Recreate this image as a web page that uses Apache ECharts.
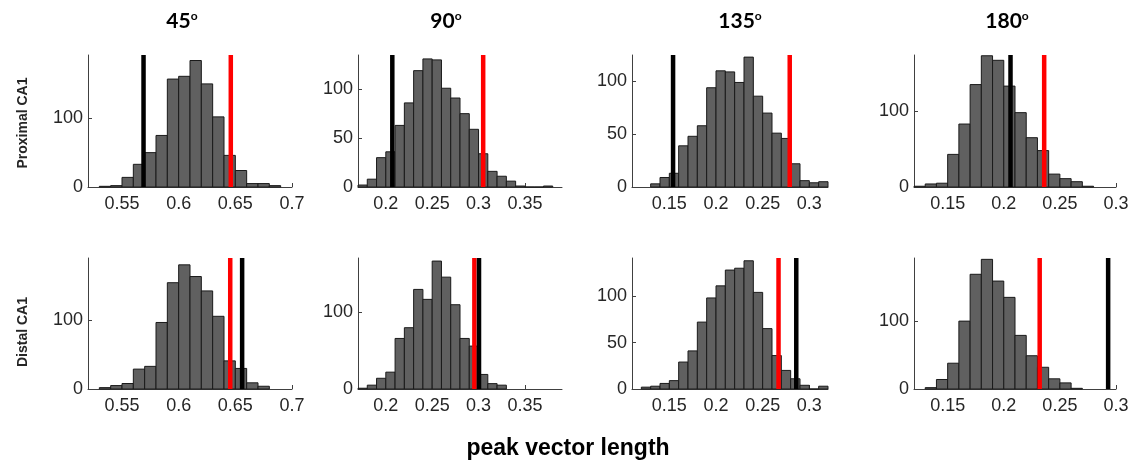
<!DOCTYPE html>
<html>
<head>
<meta charset="utf-8">
<script src="https://cdn.jsdelivr.net/npm/echarts@6/dist/echarts.min.js"></script>
<style>html,body{margin:0;padding:0;background:#fff}#c{width:1137px;height:466px}</style>
</head>
<body>
<div id="c"></div>
<script>
// ---- data ----
const binWidth = 0.01;
const angleTitles = ['45', '90', '135', '180'];
const rowLabels = ['Proximal CA1', 'Distal CA1'];
const xLabel = 'peak vector length';

// histogram counts (first bin start + counts per 0.01 bin)
const prox45Start = 0.53;  const prox45Counts  = [1, 2, 14, 33, 50, 75, 157, 161, 184, 150, 102, 46, 24, 5, 5, 2];
const prox90Start = 0.17;  const prox90Counts  = [2, 8, 30, 36, 63, 86, 119, 131, 130, 101, 91, 75, 59, 34, 16, 11, 6, 1, 0, 0, 1];
const prox135Start = 0.13; const prox135Counts = [3, 9, 13, 39, 48, 58, 94, 110, 109, 99, 123, 86, 70, 51, 46, 22, 6, 4, 5];
const prox180Start = 0.12; const prox180Counts = [1, 4, 5, 43, 83, 135, 173, 167, 133, 98, 65, 48, 17, 11, 7, 1];
const dist45Start = 0.53;  const dist45Counts  = [2, 5, 8, 29, 33, 97, 155, 181, 164, 143, 106, 41, 30, 9, 4];
const dist90Start = 0.17;  const dist90Counts  = [1, 5, 14, 22, 66, 80, 130, 117, 167, 146, 110, 66, 56, 19, 7, 5];
const dist135Start = 0.12; const dist135Counts = [2, 3, 6, 9, 29, 41, 72, 98, 111, 128, 130, 138, 104, 65, 36, 20, 11, 4, 0, 3];
const dist180Start = 0.13; const dist180Counts = [2, 14, 38, 100, 169, 191, 159, 135, 79, 49, 32, 15, 9, 1];

// vertical markers: black = observed, red = shuffle threshold
const proxObserved  = [0.569, 0.207, 0.154, 0.206];
const proxThreshold = [0.646, 0.305, 0.279, 0.236];
const distObserved  = [0.656, 0.3005, 0.286, 0.293];
const distThreshold = [0.6455, 0.2955, 0.267, 0.232];

// axes
const xMins = [0.52, 0.17, 0.11, 0.12];
const xMaxs = [0.70, 0.39, 0.32, 0.30];
const xTicks = [[0.55, 0.6, 0.65, 0.7], [0.2, 0.25, 0.3, 0.35], [0.15, 0.2, 0.25, 0.3], [0.15, 0.2, 0.25, 0.3]];
const proxYMax = [192, 135, 125, 174];
const distYMax = [191, 171, 141, 193];
const proxYTicks = [[0, 100], [0, 50, 100], [0, 50, 100], [0, 100]];
const distYTicks = [[0, 100], [0, 100], [0, 50, 100], [0, 100]];

// ---- layout ----
const colLeft = [88, 358, 632, 914];
const colWidth = [204, 204, 196, 202];
const rowTop = [55, 258];
const rowHeight = [132, 131];
const titleX = [182, 446, 740, 1007];

const rows = [
  {starts: [prox45Start, prox90Start, prox135Start, prox180Start],
   counts: [prox45Counts, prox90Counts, prox135Counts, prox180Counts],
   obs: proxObserved, thr: proxThreshold, ymax: proxYMax, yticks: proxYTicks},
  {starts: [dist45Start, dist90Start, dist135Start, dist180Start],
   counts: [dist45Counts, dist90Counts, dist135Counts, dist180Counts],
   obs: distObserved, thr: distThreshold, ymax: distYMax, yticks: distYTicks}
];

const font = 'Liberation Sans, Arial, sans-serif';
const axisColor = '#404040';
const textColor = '#262626';

const grid = [], xAxis = [], yAxis = [], series = [];
let gi = 0;
rows.forEach((row, r) => {
  for (let c = 0; c < 4; c++) {
    grid.push({left: colLeft[c], top: rowTop[r], width: colWidth[c], height: rowHeight[r], containLabel: false});
    xAxis.push({
      type: 'value', gridIndex: gi, min: xMins[c], max: xMaxs[c],
      axisLine: {show: true, onZero: false, lineStyle: {color: axisColor, width: 1}},
      axisTick: {show: true, inside: true, length: 4, customValues: xTicks[c], lineStyle: {color: axisColor}},
      axisLabel: {show: true, customValues: xTicks[c], margin: 8, color: textColor, fontFamily: font, fontSize: 18,
        formatter: v => String(+v.toFixed(3))},
      splitLine: {show: false}
    });
    yAxis.push({
      type: 'value', gridIndex: gi, min: 0, max: row.ymax[c],
      axisLine: {show: true, lineStyle: {color: axisColor, width: 1}},
      axisTick: {show: true, inside: true, length: 4, customValues: row.yticks[c], lineStyle: {color: axisColor}},
      axisLabel: {show: true, customValues: row.yticks[c], margin: 5, color: textColor, fontFamily: font, fontSize: 18},
      splitLine: {show: false}
    });
    const start = row.starts[c];
    const data = row.counts[c].map((v, i) => [
      +(start + i * binWidth).toFixed(4), +(start + (i + 1) * binWidth).toFixed(4), v]);
    series.push({
      type: 'custom', xAxisIndex: gi, yAxisIndex: gi, silent: true, animation: false,
      data: data,
      encode: {x: [0, 1], y: 2},
      renderItem: (params, api) => {
        const p0 = api.coord([api.value(0), 0]);
        const p1 = api.coord([api.value(1), api.value(2)]);
        return {type: 'rect',
          shape: {x: p0[0], y: p1[1], width: p1[0] - p0[0], height: p0[1] - p1[1]},
          style: {fill: '#606060', stroke: '#1a1a1a', lineWidth: 1}};
      }
    });
    const ym = row.ymax[c];
    [[row.thr[c], '#ff0000'], [row.obs[c], '#000000']].forEach(([xv, col]) => {
      series.push({
        type: 'line', xAxisIndex: gi, yAxisIndex: gi, silent: true, animation: false,
        showSymbol: false, symbol: 'none',
        data: [[xv, 0], [xv, ym]],
        lineStyle: {color: col, width: 4.5, cap: 'butt'}
      });
    });
    gi++;
  }
});

const graphic = [];
angleTitles.forEach((t, c) => {
  graphic.push({type: 'text', x: titleX[c], y: 21,
    style: {text: '{n|' + t + '}{s|o}', align: 'center', verticalAlign: 'middle',
      rich: {n: {fontFamily: 'Lato, sans-serif', fontWeight: 'bold', fontSize: 21, fill: '#000', lineHeight: 22},
             s: {fontFamily: 'Lato, sans-serif', fontWeight: 'bold', fontSize: 12, fill: '#000', verticalAlign: 'top', lineHeight: 22, padding: [0, 0, 8, 0]}}}});
});
const rowLabelY = [123, 332];
rowLabels.forEach((t, r) => {
  graphic.push({type: 'text', x: 23, y: rowLabelY[r], rotation: Math.PI / 2,
    style: {text: t, fontFamily: font, fontWeight: 'bold', fontSize: 14, fill: textColor, align: 'center', verticalAlign: 'middle'}});
});
graphic.push({type: 'text', x: 568, y: 449,
  style: {text: xLabel, fontFamily: font, fontWeight: 'bold', fontSize: 23, fill: '#000', align: 'center', verticalAlign: 'middle'}});

const chart = echarts.init(document.getElementById('c'), null, {renderer: 'canvas'});
chart.setOption({animation: false, backgroundColor: '#fff', grid, xAxis, yAxis, series, graphic});
</script>
</body>
</html>
